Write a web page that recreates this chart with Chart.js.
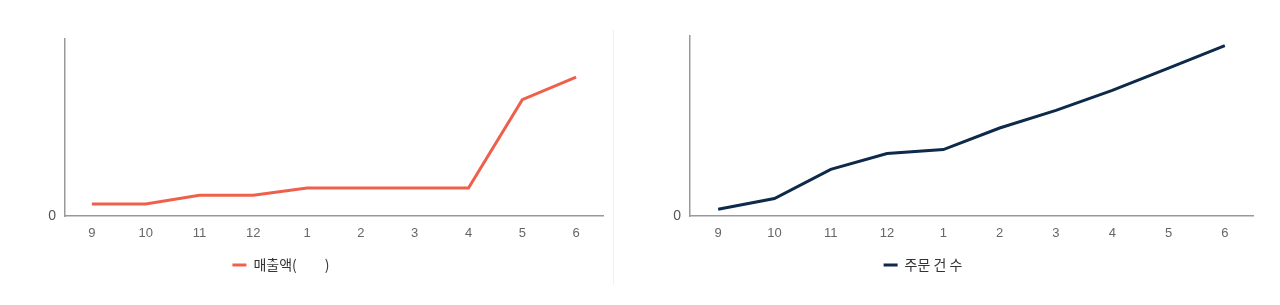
<!DOCTYPE html>
<html>
<head>
<meta charset="utf-8">
<script src="https://cdn.jsdelivr.net/npm/chart.js@4"></script>
<style>
  html, body { margin: 0; padding: 0; background: #fff; }
  body { width: 1280px; height: 305px; position: relative; overflow: hidden; }
  .box { position: absolute; top: 0; height: 305px; }
  #sep { position: absolute; left: 613px; top: 30px; width: 1px; height: 255px; background: #f0f0f0; }
</style>
</head>
<body>
<div class="box" id="boxKiri" style="left:-41px; width:646px;"><canvas id="chartKiri"></canvas></div>
<div id="sep"></div>
<div class="box" id="boxKanan" style="left:593px; width:687px;"><canvas id="chartKanan"></canvas></div>
<script>
// data
const bulan = ["9", "10", "11", "12", "1", "2", "3", "4", "5", "6"];
const labelPenjualan = "매출액(\u3000\u3000)";
const nilaiPenjualan = [0.27, 0.27, 0.47, 0.47, 0.63, 0.63, 0.63, 0.63, 2.63, 3.14];
const labelPesanan = "주문 건 수";
const nilaiPesanan = [3.7, 9.7, 25.9, 34.7, 36.9, 48.9, 58.7, 69.8, 82.2, 94.7];

const fontAngka = "'Liberation Sans', Arial, sans-serif";
const fontLegend = "'Noto Sans CJK KR', 'Liberation Sans', sans-serif";

// only the zero tick is readable in the picture
function labelNol(v) {
  return v === 0 ? "0" : "";
}

function buatGrafik(id, label, data, warna, maxY, stepY, lebarSumbuY, padAtas, padKanan) {
  const ctx = document.getElementById(id).getContext("2d");
  return new Chart(ctx, {
    type: "line",
    data: {
      labels: bulan,
      datasets: [{
        label: label,
        data: data,
        borderColor: warna,
        backgroundColor: warna,
        borderWidth: 3,
        pointRadius: 0,
        tension: 0,
        fill: false
      }]
    },
    options: {
      responsive: true,
      maintainAspectRatio: false,
      animation: false,
      layout: { padding: { top: padAtas, right: padKanan, bottom: 23, left: 0 } },
      plugins: {
        legend: {
          position: "bottom",
          labels: {
            usePointStyle: true,
            pointStyle: "line",
            pointStyleWidth: 14,
            color: "#333",
            padding: 10,
            font: { family: fontLegend, size: 14 }
          }
        },
        tooltip: { enabled: false }
      },
      scales: {
        x: {
          offset: true,
          grid: { display: false, drawTicks: false, offset: true },
          border: { display: true, color: "#999", width: 1.5 },
          ticks: { color: "#666", padding: 10, font: { family: fontAngka, size: 13 } },
          afterFit: s => { s.height = 32; }
        },
        y: {
          min: 0,
          max: maxY,
          grid: { display: false, drawTicks: false },
          border: { display: true, color: "#999", width: 1.5 },
          ticks: { stepSize: stepY, callback: labelNol, color: "#555", padding: 9, font: { family: fontAngka, size: 14 } },
          afterFit: s => { s.width = lebarSumbuY; }
        }
      }
    }
  });
}

buatGrafik("chartKiri", labelPenjualan, nilaiPenjualan, "#ef604c", 4, 1, 106, 39, 2);
buatGrafik("chartKanan", labelPesanan, nilaiPesanan, "#0d2a4b", 100, 20, 97, 36, 27);
</script>
</body>
</html>
